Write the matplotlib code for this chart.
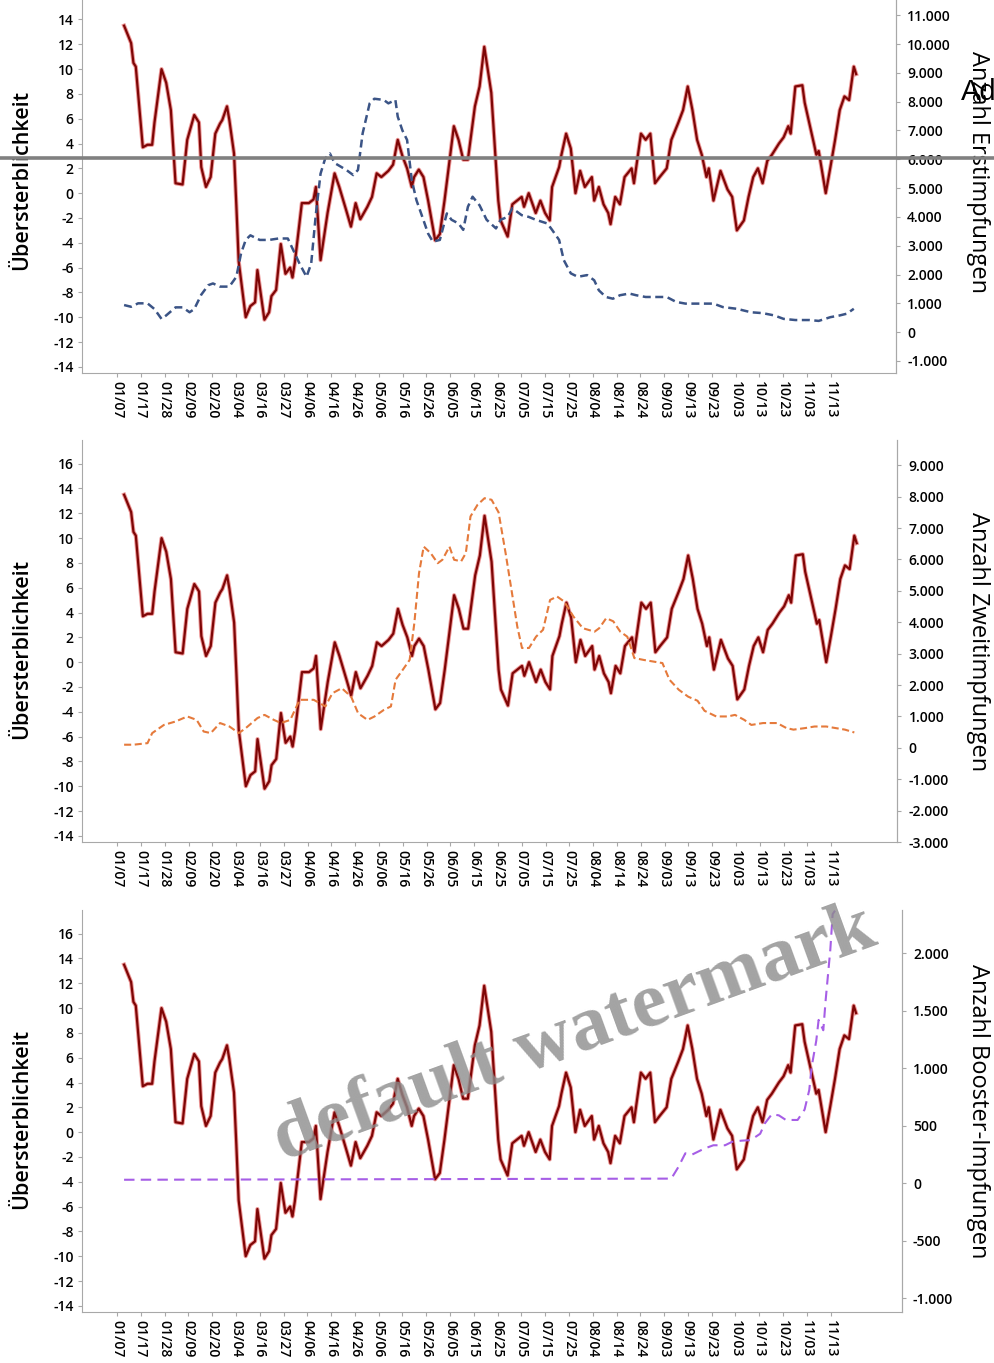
import matplotlib
matplotlib.use("Agg")
import matplotlib.pyplot as plt
from matplotlib.lines import Line2D
from matplotlib.ticker import FuncFormatter, MultipleLocator

plt.rcParams['font.family'] = ['Open Sans', 'DejaVu Sans']
plt.rcParams['axes.unicode_minus'] = False

# x axis: running day index, a date label roughly every 10 days
date_labels = ['01/07', '01/17', '01/28', '02/09', '02/20', '03/04', '03/16', '03/27',
               '04/06', '04/16', '04/26', '05/06', '05/16', '05/26', '06/05', '06/15',
               '06/25', '07/05', '07/15', '07/25', '08/04', '08/14', '08/24', '09/03',
               '09/13', '09/23', '10/03', '10/13', '10/23', '11/03', '11/13']
label_pos = [-3 + 10.17 * i for i in range(len(date_labels))]

# Übersterblichkeit (%), day index / value
mort_day = [0, 3, 4, 5, 8, 10, 12, 13, 16, 18,
            20, 22, 25, 27, 30, 32, 33, 35, 37, 39,
            41, 42, 44, 45, 47, 48, 49, 50, 52, 54,
            56, 57, 60, 62, 63, 65, 67, 69, 71, 72,
            73, 76, 79, 81, 82, 84, 87, 90, 92, 95,
            97, 99, 101, 104, 106, 108, 110, 113, 115, 117,
            119, 121, 123, 124, 126, 128, 130, 133, 135, 137,
            141, 143, 145, 147, 150, 152, 154, 157, 160, 161,
            164, 166, 168, 170, 171, 173, 176, 178, 180, 182,
            183, 186, 187, 189, 191, 193, 195, 197, 200, 201,
            203, 205, 207, 208, 210, 212, 214, 217, 218, 221,
            223, 225, 227, 229, 232, 234, 237, 239, 241, 243,
            245, 247, 249, 250, 252, 255, 257, 258, 260, 262,
            265, 267, 269, 271, 273, 275, 277, 280, 282, 284,
            285, 287, 290, 291, 294, 296, 297, 300, 302, 304,
            306, 308, 310, 312, 313]
mort_val = [13.5, 12.1, 10.5, 10.2, 3.7, 3.9, 3.9, 5.7, 10.0, 8.9,
            6.7, 0.8, 0.7, 4.3, 6.3, 5.7, 2.1, 0.5, 1.3, 4.8,
            5.6, 5.9, 7.0, 5.9, 3.2, -1.0, -5.5, -7.0, -10.0, -9.1,
            -8.8, -6.2, -10.2, -9.6, -8.3, -7.8, -4.1, -6.5, -6.0, -6.8,
            -5.6, -0.8, -0.8, -0.5, 0.5, -5.4, -1.6, 1.6, 0.5, -1.4,
            -2.7, -0.8, -2.1, -1.1, -0.3, 1.6, 1.3, 1.8, 2.3, 4.3,
            3.0, 2.0, 0.5, 1.3, 1.9, 1.3, -0.6, -3.8, -3.3, -0.6,
            5.4, 4.3, 2.7, 2.7, 7.0, 8.6, 11.8, 8.1, -0.6, -2.2,
            -3.5, -0.9, -0.6, -0.3, -1.1, 0.0, -1.6, -0.6, -1.6, -2.2,
            0.5, 2.1, 3.1, 4.8, 3.6, 0.0, 1.8, 0.5, 1.3, -0.6,
            0.5, -0.9, -1.6, -2.5, -0.3, -0.9, 1.3, 2.0, 0.8, 4.8,
            4.3, 4.8, 0.8, 1.3, 2.0, 4.3, 5.7, 6.7, 8.6, 6.7,
            4.3, 3.1, 1.3, 2.0, -0.6, 1.8, 0.8, 0.3, -0.3, -3.0,
            -2.2, -0.3, 1.3, 2.0, 0.8, 2.6, 3.1, 4.0, 4.5, 5.4,
            4.8, 8.6, 8.7, 7.3, 4.8, 3.1, 3.4, 0.0, 2.1, 4.3,
            6.7, 7.8, 7.5, 10.2, 9.6]

# Erstimpfungen
first_day = [0, 3, 6, 10, 13, 16, 18, 22, 25, 28,
             30, 33, 36, 38, 41, 45, 48, 50, 52, 54,
             58, 62, 66, 70, 73, 75, 78, 80, 82, 84,
             86, 88, 90, 95, 98, 100, 102, 105, 107, 111,
             113, 116, 117, 119, 121, 123, 125, 127, 130, 132,
             135, 138, 140, 143, 145, 147, 149, 152, 155, 159,
             161, 164, 166, 170, 173, 176, 181, 183, 186, 188,
             191, 194, 198, 201, 203, 206, 209, 212, 216, 219,
             223, 228, 232, 236, 240, 246, 252, 256, 262, 268,
             273, 278, 282, 287, 293, 297, 302, 306, 309, 312]
first_val = [940, 880, 1000, 1000, 800, 460, 580, 860, 860, 690,
             800, 1300, 1630, 1690, 1580, 1580, 1920, 2730, 3200, 3360,
             3200, 3200, 3250, 3250, 2730, 2380, 1920, 2380, 4100, 5500,
             6030, 6200, 5870, 5630, 5450, 5630, 6900, 7940, 8100, 8060,
             7940, 8060, 7480, 7000, 6670, 5280, 4580, 4120, 3420, 3140,
             3200, 4120, 3900, 3770, 3550, 4350, 4700, 4400, 3900, 3600,
             3900, 4000, 4300, 4060, 4000, 3900, 3770, 3550, 3200, 2500,
             2040, 1920, 1980, 1800, 1450, 1220, 1160, 1280, 1340, 1280,
             1220, 1220, 1220, 1050, 990, 990, 990, 870, 810, 690,
             660, 580, 460, 420, 420, 390, 520, 580, 640, 810]

# Zweitimpfungen
second_day = [0, 4, 10, 12, 17, 22, 27, 31, 34, 37,
              41, 45, 49, 52, 57, 60, 64, 67, 71, 75,
              81, 86, 89, 93, 97, 100, 104, 107, 111, 114,
              116, 119, 122, 124, 126, 128, 131, 134, 136, 139,
              141, 144, 146, 148, 151, 154, 157, 160, 163, 166,
              168, 170, 173, 176, 179, 182, 185, 188, 192, 196,
              201, 203, 206, 209, 212, 215, 218, 222, 226, 230,
              233, 237, 241, 245, 248, 253, 258, 261, 265, 268,
              273, 279, 283, 286, 291, 295, 300, 304, 308, 312]
second_val = [100, 100, 150, 470, 730, 840, 1000, 890, 520, 470,
              790, 680, 470, 630, 950, 1050, 890, 790, 890, 1530,
              1530, 1320, 1740, 1900, 1630, 1100, 890, 1000, 1210, 1320,
              2170, 2480, 2800, 3970, 5560, 6410, 6200, 5880, 5990, 6410,
              5990, 5940, 6200, 7370, 7740, 7950, 7900, 7500, 6200, 4800,
              3860, 3180, 3180, 3540, 3760, 4710, 4820, 4660, 4180, 3810,
              3700, 3810, 4130, 4030, 3700, 3540, 2860, 2800, 2750, 2700,
              2170, 1850, 1630, 1500, 1180, 1000, 1000, 1050, 890, 730,
              790, 790, 630, 580, 630, 680, 680, 630, 580, 490]

# Booster-Impfungen
booster_day = [0, 234, 237, 240, 243, 248, 252, 257, 260, 264,
               268, 272, 274, 277, 280, 283, 288, 291, 293, 294,
               296, 297, 299, 300, 302, 303, 304]
booster_val = [30, 40, 140, 260, 250, 300, 330, 330, 360, 370,
               375, 430, 520, 600, 590, 550, 550, 640, 810, 1010,
               1240, 1420, 1330, 1590, 2030, 2340, 2370]

panels = [
    dict(day=first_day, val=first_val, label='Anzahl Erstimpfungen',
         color='#3b5486', dashes=(3.2, 1.8), lw=1.8,
         ylim=(-1420, 12530), step=1000,
         rect=[0.0824, 0.7263, 0.818, 0.2949], xmax=330.0),
    dict(day=second_day, val=second_val, label='Anzahl Zweitimpfungen',
         color='#e57a3c', dashes=(3.4, 1.7), lw=1.5,
         ylim=(-3000, 9800), step=1000,
         rect=[0.0824, 0.3822, 0.8195, 0.2949], xmax=330.4),
    dict(day=booster_day, val=booster_val, label='Anzahl Booster-Impfungen',
         color='#a65ee6', dashes=(5, 3), lw=1.5,
         ylim=(-1120, 2375), step=500,
         rect=[0.0824, 0.0374, 0.824, 0.2949], xmax=332.6),
]

def de_thousands(v, pos):
    return f"{v:,.0f}".replace(",", ".")

spine_col = '#a8a8a8'

fig = plt.figure(figsize=(9.95, 13.63), dpi=100)

for p in panels:
    ax = fig.add_axes(p['rect'])
    ax.plot(mort_day, mort_val, color='#d81c1c', lw=3.0, alpha=0.45, solid_joinstyle='round')
    ax.plot(mort_day, mort_val, color='#7e0606', lw=1.6, solid_joinstyle='round')
    ax.set_xlim(-18, p['xmax'])
    ax.set_ylim(-14.5, 17.9)
    ax.yaxis.set_major_locator(MultipleLocator(2))
    ax.set_xticks(label_pos)
    ax.set_xticklabels(date_labels, rotation=-90, fontsize=10, fontweight='semibold')
    for t in ax.get_yticklabels():
        t.set_fontsize(10)
        t.set_fontweight('semibold')
    ax.set_ylabel('Übersterblichkeit', fontsize=15.5, fontweight='semibold',
                  ha='center', va='center')
    w_px = p['rect'][2] * 995
    ax.yaxis.set_label_coords(-60 / w_px, 0.48)
    ax.tick_params(axis='both', length=3, color=spine_col, pad=3)
    for s in ['left', 'bottom', 'right']:
        ax.spines[s].set_color(spine_col)
    ax.spines['top'].set_visible(False)

    ax2 = ax.twinx()
    ax2.plot(p['day'], p['val'], color=p['color'], lw=p['lw'], dashes=p['dashes'])
    ax2.set_ylim(*p['ylim'])
    ax2.yaxis.set_major_locator(MultipleLocator(p['step']))
    ax2.yaxis.set_major_formatter(FuncFormatter(de_thousands))
    for t in ax2.get_yticklabels():
        t.set_fontsize(10)
        t.set_fontweight('semibold')
    ax2.set_ylabel(p['label'], rotation=270, fontsize=17, fontweight='medium',
                   ha='center', va='center')
    right_px = 82 + w_px
    ax2.yaxis.set_label_coords(1 + (978 - right_px) / w_px, 0.5)
    ax2.tick_params(axis='y', length=3, color=spine_col, pad=5)
    ax2.spines['right'].set_color(spine_col)
    ax2.spines['top'].set_visible(False)
    ax2.spines['left'].set_visible(False)
    ax2.spines['bottom'].set_visible(False)

# grey rule across the top panel and the toolbar caption
fig.add_artist(Line2D([0, 1], [0.884, 0.884], transform=fig.transFigure,
                      color='#808080', lw=2.6))
fig.text(0.966, 0.9325, 'Add', fontsize=21, family='Liberation Sans',
         ha='left', va='center', color='black')

fig.text(0.578, 0.2406, 'default watermark', rotation=20, ha='center', va='center',
         fontsize=57, fontweight='bold', family='Liberation Serif',
         color='#8c8c8c', alpha=0.8)

fig.savefig('out.png', dpi=100)
